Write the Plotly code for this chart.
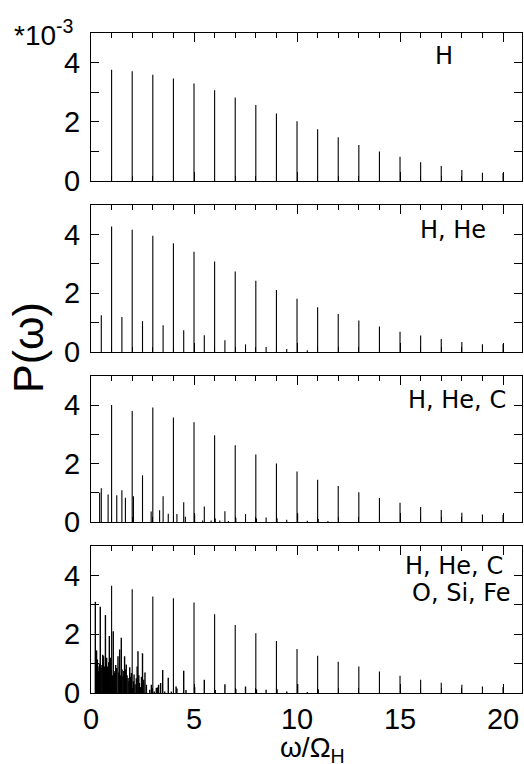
import plotly.graph_objects as go
from plotly.subplots import make_subplots

# ---------------- data (values in units of 1e-3) ----------------
harmonics = list(range(1, 21))

# Panel 1: H only
p1_h = [3.76, 3.71, 3.59, 3.46, 3.29, 3.07, 2.82, 2.57, 2.28, 2.02,
        1.75, 1.48, 1.22, 1.00, 0.82, 0.63, 0.51, 0.37, 0.28, 0.27]

# Panel 2: H, He
p2_h = [4.27, 4.16, 3.95, 3.70, 3.41, 3.08, 2.74, 2.42, 2.11, 1.81,
        1.52, 1.29, 1.07, 0.87, 0.69, 0.56, 0.44, 0.34, 0.26, 0.26]
p2_other_x = [0.5, 1.5, 2.5, 3.5, 4.5, 5.5, 6.5, 7.5, 8.5, 9.5, 10.5]
p2_other_h = [1.25, 1.19, 1.05, 0.91, 0.74, 0.57, 0.40, 0.26, 0.17, 0.10, 0.06]

# Panel 3: H, He, C
p3_h = [4.01, 3.80, 3.92, 3.58, 3.42, 2.97, 2.63, 2.31, 2.00, 1.73,
        1.45, 1.23, 1.02, 0.82, 0.66, 0.51, 0.41, 0.32, 0.26, 0.25]
p3_other_x = [0.42, 0.50, 0.83, 1.25, 1.50, 1.67, 2.06, 2.50, 2.92, 3.33,
              3.50, 3.75, 4.17, 4.50, 4.58, 5.03, 5.42, 5.50, 5.83, 6.03,
              6.25, 6.50, 6.67, 7.03, 7.50, 8.03, 8.50, 9.03, 9.50, 10.03,
              10.50, 11.03, 11.50]
p3_other_h = [1.00, 1.16, 0.94, 0.92, 1.09, 0.83, 0.88, 1.60, 0.36, 0.40,
              0.88, 0.28, 0.27, 0.68, 0.18, 0.27, 0.05, 0.53, 0.05, 0.12,
              0.05, 0.37, 0.03, 0.14, 0.27, 0.12, 0.15, 0.13, 0.08, 0.28,
              0.04, 0.10, 0.03]

# Panel 4: H, He, C, O, Si, Fe
p4_h = [3.65, 3.53, 3.28, 3.22, 3.08, 2.68, 2.31, 2.03, 1.77, 1.50,
        1.27, 1.06, 0.90, 0.73, 0.59, 0.45, 0.35, 0.28, 0.22, 0.20]
p4_other_x = [0.21, 0.24, 0.27, 0.31, 0.34, 0.37, 0.41, 0.45, 0.49, 0.53,
              0.57, 0.61, 0.66, 0.70, 0.73, 0.76, 0.80, 0.83, 0.86, 0.89,
              0.94, 0.97, 1.04, 1.08, 1.12, 1.15, 1.20, 1.25, 1.31, 1.35,
              1.39, 1.43, 1.47, 1.51, 1.55, 1.59, 1.63, 1.67, 1.71, 1.75,
              1.80, 1.84, 1.88, 1.92, 1.96, 2.06, 2.09, 2.14, 2.20, 2.24,
              2.28, 2.32, 2.35, 2.40, 2.45, 2.50, 2.56, 2.62, 2.69, 2.85,
              2.93, 3.07, 3.17, 3.22, 3.28, 3.38, 3.48, 3.58, 3.75, 3.90,
              4.13, 4.17, 4.50, 4.61, 5.03, 5.50, 6.03, 6.50, 7.03, 7.50,
              8.03, 8.50, 9.03, 9.50, 10.03, 10.50, 11.03]
p4_other_h = [3.10, 1.42, 1.45, 1.14, 0.90, 0.74, 1.00, 2.93, 0.85, 0.95,
              1.30, 1.25, 0.90, 2.65, 1.10, 1.20, 0.90, 0.74, 1.05, 1.94,
              1.20, 0.80, 0.60, 2.10, 0.75, 0.68, 0.95, 0.85, 1.25, 0.70,
              1.48, 0.60, 1.88, 0.80, 0.57, 0.75, 1.25, 0.80, 0.97, 0.60,
              0.51, 0.40, 0.88, 0.55, 0.68, 0.40, 0.63, 0.30, 0.50, 0.90,
              1.42, 0.60, 0.34, 0.20, 0.55, 1.35, 0.45, 0.70, 0.28, 0.11,
              0.28, 0.05, 0.17, 0.19, 0.28, 0.34, 0.78, 0.05, 0.52, 0.05,
              0.22, 0.15, 0.76, 0.10, 0.20, 0.45, 0.10, 0.30, 0.13, 0.22,
              0.12, 0.11, 0.13, 0.05, 0.30, 0.03, 0.13]

panel_labels = [["H"], ["H, He"], ["H, He, C"], ["H, He, C", "O, Si, Fe"]]
x_ticks = [0, 5, 10, 15, 20]
y_ticks = [0, 1, 2, 3, 4]
y_ticktext = ["0", "", "2", "", "4"]

# ---------------- figure ----------------
W, H = 524, 764
panels = [
    (harmonics, p1_h, [], []),
    (harmonics, p2_h, p2_other_x, p2_other_h),
    (harmonics, p3_h, p3_other_x, p3_other_h),
    (harmonics, p4_h, p4_other_x, p4_other_h),
]


def stems(xs, hs):
    sx, sy = [], []
    for x, h in zip(xs, hs):
        sx += [x, x, None]
        sy += [0, h, None]
    return sx, sy


fig = make_subplots(rows=4, cols=1, shared_xaxes=False)

for i, (hx, hh, ox, oh) in enumerate(panels, start=1):
    if ox:
        xs, ys = stems(ox, oh)
        fig.add_trace(go.Scatter(x=xs, y=ys, mode="lines",
                                 line=dict(color="black", width=1.4 if i == 4 else 1.1),
                                 showlegend=False, hoverinfo="skip"),
                      row=i, col=1)
    xs, ys = stems(hx, hh)
    fig.add_trace(go.Scatter(x=xs, y=ys, mode="lines",
                             line=dict(color="black", width=1.1),
                             showlegend=False, hoverinfo="skip"),
                  row=i, col=1)

# pixel-based panel positions (top, bottom)
pix = [(33, 181), (205, 352), (376, 522), (546, 693)]
xdom = [91 / W, 522 / W]
font_main = "Liberation Sans, Arial, sans-serif"

for i, (t, b) in enumerate(pix, start=1):
    dom = [1 - b / H, 1 - t / H]
    fig.update_xaxes(domain=xdom, range=[0, 20.92], showgrid=False, zeroline=False,
                     automargin=False,
                     showline=True, linecolor="black", linewidth=1.3, mirror="allticks",
                     ticks="inside", ticklen=9, tickwidth=1.2, tickcolor="black",
                     tickvals=x_ticks,
                     minor=dict(ticks="inside", ticklen=5, tickwidth=1, tickcolor="black", dtick=1, tick0=0),
                     showticklabels=(i == 4),
                     tickfont=dict(family=font_main, size=29, color="black"),
                     row=i, col=1)
    fig.update_yaxes(domain=dom, range=[0, 5], showgrid=False, zeroline=False,
                     automargin=False,
                     showline=True, linecolor="black", linewidth=1.3, mirror="allticks",
                     ticks="inside", ticklen=8, tickwidth=1.2, tickcolor="black",
                     tickvals=y_ticks, ticktext=y_ticktext,
                     tickfont=dict(family=font_main, size=29, color="black"),
                     ticklabelstandoff=4,
                     row=i, col=1)

ann = []
label_pos = [[(455, 56)], [(488, 229.5)], [(508, 400)], [(505, 566), (513, 593)]]
for labels, poss in zip(panel_labels, label_pos):
    for txt, (px, py) in zip(labels, poss):
        ann.append(dict(text=txt, x=px / W, y=1 - py / H, xref="paper", yref="paper",
                        xanchor="right", yanchor="middle", showarrow=False,
                        font=dict(family="DejaVu Sans, sans-serif", size=24, color="black")))

ann.append(dict(text="*10<sup>-3</sup>", x=12 / W, y=1 - 33 / H, xref="paper", yref="paper",
                xanchor="left", yanchor="middle", showarrow=False,
                font=dict(family=font_main, size=28, color="black")))
ann.append(dict(text="P(ω)", x=28 / W, y=1 - 348 / H, xref="paper", yref="paper",
                xanchor="center", yanchor="middle", textangle=-90, showarrow=False,
                font=dict(family=font_main, size=43, color="black")))
ann.append(dict(text="ω/Ω<sub>H</sub>", x=312 / W, y=1 - 749 / H, xref="paper", yref="paper",
                xanchor="center", yanchor="middle", showarrow=False,
                font=dict(family=font_main, size=28, color="black")))

fig.update_layout(width=W, height=H, margin=dict(l=0, r=0, t=0, b=0, pad=0),
                  paper_bgcolor="white", plot_bgcolor="white", annotations=ann)

fig.write_html("out.html")
